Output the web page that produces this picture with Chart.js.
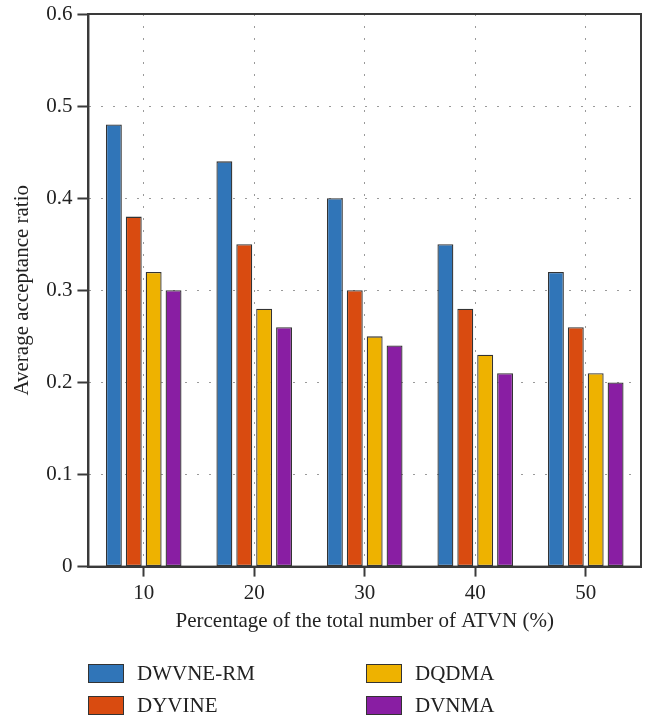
<!DOCTYPE html>
<html>
<head>
<meta charset="utf-8">
<script src="https://cdn.jsdelivr.net/npm/chart.js@4"></script>
<style>
  body { margin: 0; background: #fff; }
  #wrap { position: relative; width: 647px; height: 718px; }
  #legend { position: absolute; left: 88px; top: 664px; display: grid;
    grid-template-columns: 278px 200px; row-gap: 13px;
    font-family: "Liberation Serif", serif; font-size: 21px; color: #222; }
  .item { display: flex; align-items: center; height: 19px; }
  .sw { width: 34px; height: 17px; border: 1px solid #333; margin-right: 13px; }
</style>
</head>
<body>
<div id="wrap">
  <canvas id="chart" width="647" height="718"></canvas>
  <div id="legend"></div>
</div>
<script>
const categories = ["10", "20", "30", "40", "50"];
const seriesNames = ["DWVNE-RM", "DYVINE", "DQDMA", "DVNMA"];
const dwvneRm = [0.48, 0.44, 0.40, 0.35, 0.32];
const dyvine = [0.38, 0.35, 0.30, 0.28, 0.26];
const dqdma = [0.32, 0.28, 0.25, 0.23, 0.21];
const dvnma = [0.30, 0.26, 0.24, 0.21, 0.20];
const colors = ["#3075b8", "#d94b10", "#eeb200", "#891ea3"];

const font = { family: "Liberation Serif", size: 21 };
const axisColor = "#3a3a3a";

// box around the plot (top and right sides)
const frame = {
    id: "frame",
    afterDraw(chart) {
        const a = chart.chartArea, ctx = chart.ctx;
        ctx.save();
        ctx.strokeStyle = axisColor;
        ctx.lineWidth = 2;
        ctx.strokeRect(a.left, a.top, a.right - a.left, a.bottom - a.top);
        ctx.restore();
    }
};

const chart = new Chart(document.getElementById("chart"), {
    type: "bar",
    data: {
        labels: categories,
        datasets: [dwvneRm, dyvine, dqdma, dvnma].map((d, i) => ({
            label: seriesNames[i],
            data: d,
            backgroundColor: colors[i],
            borderColor: "#333",
            borderWidth: 1.3,
            borderSkipped: false,
            barPercentage: 0.8,
            categoryPercentage: 0.72
        }))
    },
    options: {
        responsive: false,
        animation: false,
        layout: { padding: { top: 14, right: 6, bottom: 84, left: 10 } },
        plugins: { legend: { display: false }, tooltip: { enabled: false } },
        scales: {
            x: {
                grid: {
                    offset: false,
                    color: "#9a9a9a",
                    lineWidth: 1,
                    tickColor: axisColor,
                    tickBorderDash: [],
                    tickLength: 10,
                    tickWidth: 2
                },
                border: { color: axisColor, width: 2, dash: [2, 10] },
                ticks: { color: "#222", font: font, padding: 4 },
                title: {
                    display: true,
                    text: "Percentage of the total number of ATVN (%)",
                    color: "#222",
                    font: font,
                    padding: { top: -1, bottom: 0 }
                }
            },
            y: {
                min: 0,
                max: 0.6,
                afterFit: s => { s.paddingTop = 0; },
                grid: {
                    color: "#9a9a9a",
                    lineWidth: 1,
                    tickColor: axisColor,
                    tickBorderDash: [],
                    tickLength: 11,
                    tickWidth: 2
                },
                border: { color: axisColor, width: 2, dash: [2, 10] },
                ticks: {
                    stepSize: 0.1,
                    color: "#222",
                    font: font,
                    padding: 5,
                    callback: v => (Math.round(v * 10) / 10).toString()
                },
                title: {
                    display: true,
                    text: "Average acceptance ratio",
                    color: "#222",
                    font: font,
                    padding: { top: 0, bottom: 6 }
                }
            }
        }
    },
    plugins: [frame]
});

// legend laid out in two columns like the original
const order = [0, 2, 1, 3];
const legend = document.getElementById("legend");
order.forEach(i => {
    const item = document.createElement("div");
    item.className = "item";
    const sw = document.createElement("span");
    sw.className = "sw";
    sw.style.background = colors[i];
    item.appendChild(sw);
    item.appendChild(document.createTextNode(seriesNames[i]));
    legend.appendChild(item);
});
</script>
</body>
</html>
